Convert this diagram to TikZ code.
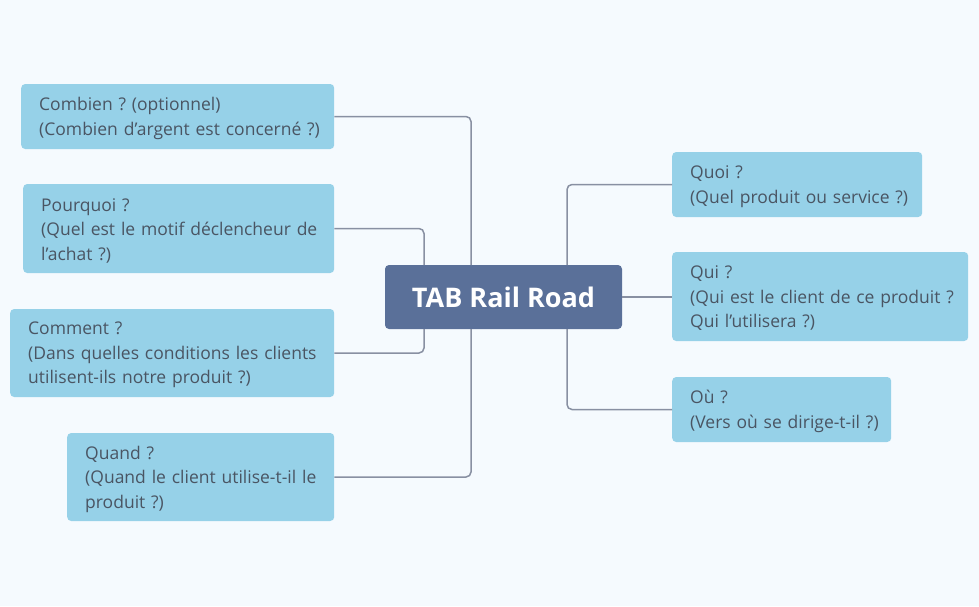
\documentclass[tikz,border=0pt]{standalone}
\usepackage{fontspec}
\setmainfont{Open Sans}
\frenchspacing
\definecolor{bg}{HTML}{F5FAFE}
\definecolor{leaf}{HTML}{96D1E8}
\definecolor{root}{HTML}{5A7099}
\definecolor{ln}{HTML}{8890A2}
\definecolor{tx}{HTML}{4A5563}
\begin{document}
\begin{tikzpicture}[x=1pt,y=-1pt,
  box/.style={fill=leaf,rounded corners=4pt,inner sep=0pt,anchor=west},
  lbl/.style={inner sep=0pt,align=left,text=tx,font=\fontsize{17.5}{24.5}\selectfont,anchor=west,text width=320pt,yshift=-2pt},
  conn/.style={draw=ln,line width=1.5pt,rounded corners=5pt}]
\fill[bg] (0,0) rectangle (979,606);
\useasboundingbox (0,0) rectangle (979,606);
\node[fill=root,rounded corners=4pt,minimum width=237pt,minimum height=64pt,text=white,font=\fontsize{27}{30}\selectfont\bfseries] (c) at (503.5,297) {TAB Rail Road};
\node[box,minimum height=65pt,minimum width=313pt] (a) at (21,116.5) {};
\node[box,minimum height=89pt,minimum width=311pt] (b) at (23,228.5) {};
\node[box,minimum height=88pt,minimum width=324pt] (d) at (10,353) {};
\node[box,minimum height=88pt,minimum width=267pt] (e) at (67,477) {};
\node[box,minimum height=65pt,minimum width=250pt] (f) at (672,184.5) {};
\node[box,minimum height=89pt,minimum width=296pt] (g) at (672,296.5) {};
\node[box,minimum height=65pt,minimum width=219pt] (h) at (672,409.5) {};
\node[lbl] (ta) at (39,116.5) {Combien ? (optionnel)\\(Combien d’argent est concerné ?)};
\node[lbl] (tb) at (41,228.5) {Pourquoi ?\\(Quel est le motif déclencheur de\\l’achat ?)};
\node[lbl] (td) at (28,353) {Comment ?\\(Dans quelles conditions les clients\\utilisent-ils notre produit ?)};
\node[lbl] (te) at (85,477) {Quand ?\\(Quand le client utilise-t-il le\\produit ?)};
\node[lbl] (tf) at (690,184.5) {Quoi ?\\(Quel produit ou service ?)};
\node[lbl] (tg) at (690,296.5) {Qui ?\\(Qui est le client de ce produit ?\\Qui l’utilisera ?)};
\node[lbl] (th) at (690,409.5) {Où ?\\(Vers où se dirige-t-il ?)};
\draw[conn] (a.east) -| (471,265);
\draw[conn] (e.east) -| (471,329);
\draw[conn] (b.east) -| (424,265);
\draw[conn] (d.east) -| (424,329);
\draw[conn] (c.east) -- (c.east -| g.west);
\draw[conn] (f.west) -| (567,265);
\draw[conn] (h.west) -| (567,329);
\end{tikzpicture}
\end{document}
